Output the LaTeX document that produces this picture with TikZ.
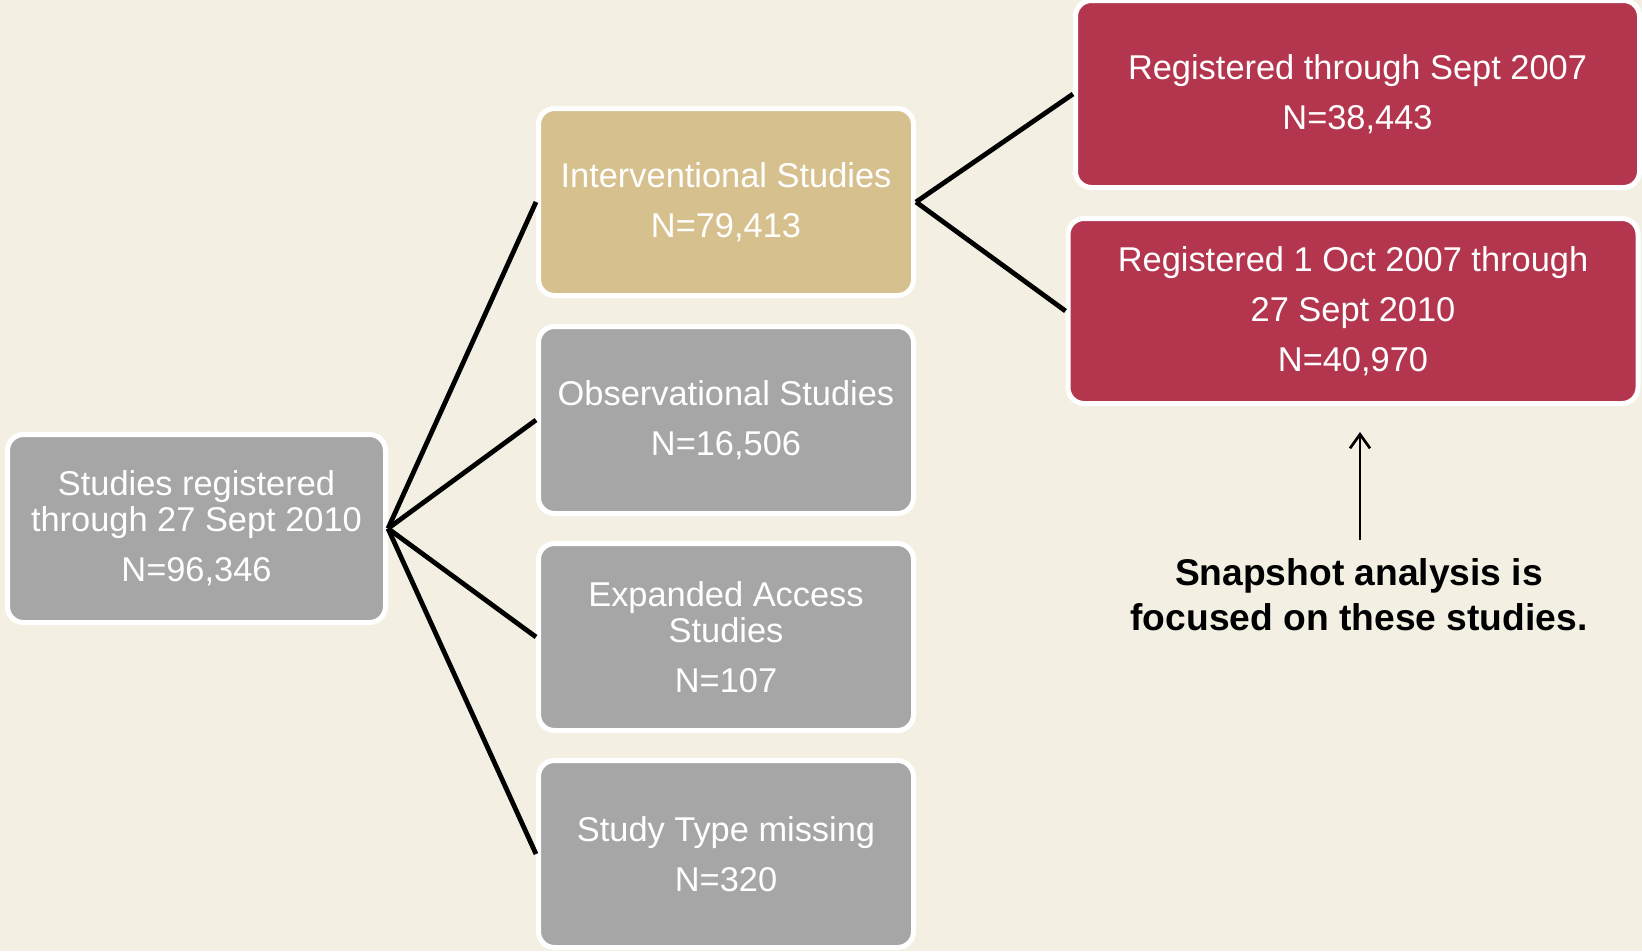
\documentclass[tikz,border=0pt]{standalone}
\usepackage{fontspec}
\setmainfont{Liberation Sans}
\usetikzlibrary{arrows.meta}
\definecolor{pagebg}{RGB}{243,239,227}
\definecolor{boxgray}{RGB}{166,166,166}
\definecolor{boxtan}{RGB}{214,192,141}
\definecolor{boxred}{RGB}{179,54,78}
\tikzset{
  card/.style={draw=white, line width=5pt, rounded corners=16pt, text=white,
    align=center, inner sep=0pt,
    font=\fontsize{34.4}{36}\selectfont},
  midcard/.style={card, fill=boxgray, minimum width=375pt, minimum height=187pt},
  redcard/.style={card, fill=boxred, minimum height=185pt},
  link/.style={line width=4.8pt, black},
  pointer/.style={line width=2.7pt, black, -{Straight Barb[length=14pt,width=20pt]}},
  notetext/.style={align=center, inner xsep=0pt, inner ysep=18pt,
    font=\fontsize{37.2}{45}\selectfont\bfseries}
}
\begin{document}
\begin{tikzpicture}[x=1pt,y=-1pt]
  % canvas
  \fill[pagebg] (0,0) rectangle (1642,951);
  \useasboundingbox (0,0) rectangle (1642,951);

  % registry total
  \node[card, fill=boxgray, minimum width=378pt, minimum height=188pt]
    (root) at (196.5,528.5) {Studies registered\\through 27 Sept 2010\\[14pt]N=96,346};

  % study types
  \node[midcard, fill=boxtan] (intv) at (726,202) {Interventional Studies\\[14pt]N=79,413};
  \node[midcard] (obs) at (726,420) {Observational Studies\\[14pt]N=16,506};
  \node[midcard] (expd) at (726,637) {Expanded Access\\Studies\\[14pt]N=107};
  \node[midcard] (miss) at (726,854) {Study Type missing\\[14pt]N=320};

  % interventional split by registration date
  \node[redcard, minimum width=564pt, minimum height=187pt] (early) at (1357.5,94)
    {Registered through Sept 2007\\[14pt]N=38,443};
  \node[redcard, minimum width=570pt] (late) at (1353,311)
    {Registered 1 Oct 2007 through\\[14pt]27 Sept 2010\\[14pt]N=40,970};

  % connectors
  \draw[link] (root.east) -- (intv.west);
  \draw[link] (root.east) -- (obs.west);
  \draw[link] (root.east) -- (expd.west);
  \draw[link] (root.east) -- (miss.west);
  \draw[link] (intv.east) -- (early.west);
  \draw[link] (intv.east) -- (late.west);

  % note with pointer
  \node[notetext, anchor=north] (note) at (1359,540)
    {Snapshot analysis is\\focused on these studies.};
  \coordinate (focus) at (1360,432);
  \draw[pointer] (note.north -| focus) -- (focus);
\end{tikzpicture}
\end{document}
